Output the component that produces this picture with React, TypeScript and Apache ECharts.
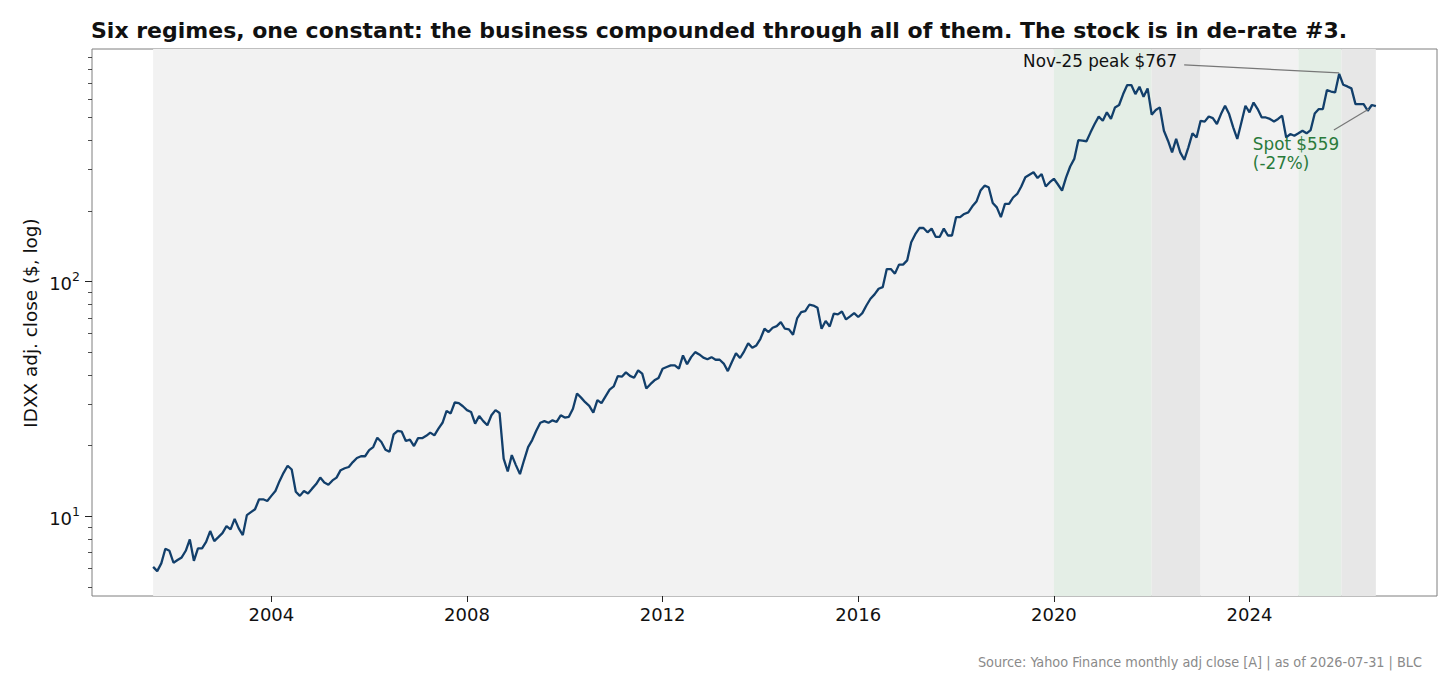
import React, { useEffect, useRef } from "react";
import * as echarts from "echarts";

// ---- Data (monthly adj close, month starts from Aug 2001 to Aug 2026) ----
const START_YEAR = 2001;
const START_MONTH = 8; // August
const PRICES: number[] = [
  6.08, 5.83, 6.29, 7.26, 7.12, 6.33, 6.5, 6.67, 7.12, 7.96,
  6.45, 7.29, 7.29, 7.77, 8.64, 7.83, 8.14, 8.47, 9.07, 8.78,
  9.74, 8.87, 8.3, 10.1, 10.4, 10.7, 11.8, 11.8, 11.6, 12.2,
  12.8, 14.1, 15.3, 16.4, 15.8, 12.7, 12.2, 12.8, 12.5, 13.1,
  13.7, 14.6, 13.9, 13.6, 14.2, 14.6, 15.7, 16.0, 16.2, 17.0,
  17.7, 18.0, 18.0, 19.1, 19.7, 21.6, 20.7, 19.2, 18.8, 22.3,
  23.1, 22.9, 20.9, 21.2, 19.9, 21.5, 21.5, 22.0, 22.7, 22.1,
  23.6, 25.0, 28.1, 27.4, 30.5, 30.3, 29.4, 28.3, 27.8, 24.8,
  26.7, 25.4, 24.4, 26.9, 28.3, 27.5, 17.6, 15.5, 18.2, 16.5,
  15.1, 17.3, 19.7, 21.1, 23.1, 25.0, 25.4, 25.0, 25.6, 25.2,
  26.9, 26.3, 26.5, 28.7, 33.3, 32.0, 30.6, 29.5, 27.6, 31.2,
  30.3, 32.4, 34.6, 35.7, 39.5, 39.3, 41.0, 39.6, 38.9, 41.8,
  40.5, 35.0, 36.5, 37.9, 38.8, 42.5, 43.2, 43.9, 43.9, 42.5,
  48.4, 44.4, 47.6, 50.0, 48.9, 47.4, 46.6, 47.6, 46.4, 46.4,
  44.7, 41.5, 45.4, 49.5, 47.2, 50.4, 54.6, 52.2, 53.4, 57.0,
  62.9, 60.9, 63.5, 64.5, 67.1, 62.9, 62.5, 59.3, 69.6, 74.0,
  74.7, 79.6, 79.0, 77.3, 62.9, 67.9, 64.3, 72.9, 72.4, 74.5,
  68.9, 71.0, 73.3, 70.6, 73.3, 79.0, 84.4, 88.1, 93.1, 94.6,
  113, 113, 108, 118, 118, 123, 147, 159, 169, 169,
  162, 168, 155, 155, 168, 157, 157, 188, 188, 194,
  197, 209, 219, 244, 256, 252, 216, 207, 188, 214,
  214, 228, 236, 254, 278, 285, 292, 276, 287, 254,
  265, 274, 259, 244, 278, 309, 333, 400, 398, 396,
  432, 469, 504, 484, 526, 493, 552, 565, 629, 687,
  687, 629, 676, 613, 665, 514, 538, 552, 439, 398,
  355, 405, 355, 330, 373, 428, 411, 484, 480, 505,
  497, 469, 517, 561, 517, 454, 405, 476, 561, 526,
  579, 543, 500, 500, 493, 481, 493, 509, 411, 425,
  418, 428, 439, 428, 442, 520, 543, 543, 654, 645,
  639, 767, 689, 678, 665, 570, 570, 570, 534, 565,
  559,
];

// Regime bands (decimal years) and their shading kind
const BAND_FROM = [2001.583, 2020.0, 2022.0, 2023.0, 2025.0, 2025.88];
const BAND_TO = [2020.0, 2022.0, 2023.0, 2025.0, 2025.88, 2026.583];
const BAND_KIND = ["base", "rerate", "derate", "base", "rerate", "derate"];
const BAND_COLORS: Record<string, string> = {
  base: "#f2f2f2",
  rerate: "#e4eee6",
  derate: "#e7e7e7",
};

const X_TICKS = [2004, 2008, 2012, 2016, 2020, 2024];
const Y_MAJOR = [10, 100];
const Y_MINOR = [5, 6, 7, 8, 9, 20, 30, 40, 50, 60, 70, 80, 90, 200, 300, 400, 500, 600, 700, 800, 900];
const MONTHS = ["Jan", "Feb", "Mar", "Apr", "May", "Jun", "Jul", "Aug", "Sep", "Oct", "Nov", "Dec"];

const TITLE =
  "Six regimes, one constant: the business compounded through all of them. The stock is in de-rate #3.";
const SOURCE = "Source: Yahoo Finance monthly adj close [A] | as of 2026-07-31 | BLC";
const Y_NAME = "IDXX adj. close ($, log)";

const FONT = "DejaVu Sans";
const LINE_COLOR = "#123f6b";

const xOf = (i: number) => START_YEAR + (START_MONTH - 1 + i) / 12;

export default function App() {
  const ref = useRef<HTMLDivElement>(null);

  useEffect(() => {
    if (!ref.current) return;
    const chart = echarts.init(ref.current, undefined, { renderer: "svg" });

    const n = PRICES.length;
    const xFirst = xOf(0);
    const xLast = xOf(n - 1);
    const xPad = (xLast - xFirst) * 0.05;
    const logs = PRICES.map((v) => Math.log10(v));
    const lo = Math.min(...logs);
    const hi = Math.max(...logs);
    const yPad = (hi - lo) * 0.05;
    const yMin = Math.pow(10, lo - yPad);
    const yMax = Math.pow(10, hi + yPad);

    const seriesData = PRICES.map((v, i) => [xOf(i), v]);

    let peakIdx = 0;
    PRICES.forEach((v, i) => {
      if (v > PRICES[peakIdx]) peakIdx = i;
    });
    const peak = PRICES[peakIdx];
    const spot = PRICES[n - 1];
    const pm = (START_MONTH - 1 + peakIdx) % 12;
    const py = START_YEAR + Math.floor((START_MONTH - 1 + peakIdx) / 12);
    const peakLabel = `${MONTHS[pm]}-${String(py).slice(2)} peak $${Math.round(peak)}`;
    const pct = Math.round((spot / peak - 1) * 100);

    const tickColor = "#222";

    chart.setOption({
      animation: false,
      title: {
        text: TITLE,
        left: 91,
        top: 19,
        padding: 0,
        textStyle: { fontFamily: FONT, fontSize: 22, fontWeight: "bold", color: "#111" },
      },
      grid: {
        left: 92,
        right: 19,
        top: 49,
        bottom: 92,
        show: true,
        borderColor: "#7f7f7f",
        borderWidth: 1,
        backgroundColor: "transparent",
      },
      xAxis: {
        type: "value",
        min: xFirst - xPad,
        max: xLast + xPad,
        splitLine: { show: false },
        axisLine: { show: false },
        axisTick: {
          show: true,
          length: 6,
          customValues: X_TICKS,
          lineStyle: { color: tickColor, width: 1 },
        },
        axisLabel: {
          customValues: X_TICKS,
          margin: 9,
          fontFamily: FONT,
          fontSize: 18,
          color: "#111",
          formatter: (v: number) => String(Math.round(v)),
        },
      },
      yAxis: [
        {
          type: "log",
          logBase: 10,
          min: yMin,
          max: yMax,
          splitLine: { show: false },
          axisLine: { show: false },
          axisTick: {
            show: true,
            length: 7,
            customValues: Y_MAJOR,
            lineStyle: { color: tickColor, width: 1 },
          },
          axisLabel: {
            customValues: Y_MAJOR,
            margin: 12,
            formatter: (v: number) => `{b|10}{s|${Math.round(Math.log10(v))}}`,
            rich: {
              b: { fontFamily: FONT, fontSize: 18, color: "#111", lineHeight: 22, verticalAlign: "bottom" },
              s: { fontFamily: FONT, fontSize: 12.5, color: "#111", lineHeight: 11, verticalAlign: "top" },
            },
          },
        },
        {
          type: "log",
          logBase: 10,
          min: yMin,
          max: yMax,
          position: "left",
          splitLine: { show: false },
          axisLine: { show: false },
          axisTick: {
            show: true,
            length: 4,
            customValues: Y_MINOR,
            lineStyle: { color: tickColor, width: 0.8 },
          },
          axisLabel: { show: false },
        },
      ],
      series: [
        {
          name: "bands",
          type: "line",
          data: [],
          z: 1,
          silent: true,
          markArea: {
            silent: true,
            data: BAND_FROM.map((a, k) => [
              { xAxis: a, itemStyle: { color: BAND_COLORS[BAND_KIND[k]] } },
              { xAxis: BAND_TO[k] },
            ]),
          },
        },
        {
          name: "IDXX",
          type: "line",
          data: seriesData,
          z: 3,
          showSymbol: false,
          symbol: "none",
          lineStyle: { color: LINE_COLOR, width: 2.3 },
        },
      ],
    });

    const pk = chart.convertToPixel({ xAxisIndex: 0, yAxisIndex: 0 }, [xOf(peakIdx), peak]) as number[];
    const sp = chart.convertToPixel({ xAxisIndex: 0, yAxisIndex: 0 }, [xOf(n - 1), spot]) as number[];

    chart.setOption({
      graphic: [
        {
          type: "text",
          x: 30,
          y: 323,
          rotation: Math.PI / 2,
          style: {
            text: Y_NAME,
            fontFamily: FONT,
            fontSize: 18.4,
            fill: "#111",
            align: "center",
            verticalAlign: "middle",
            textAlign: "center",
            textVerticalAlign: "middle",
          },
        },
        {
          type: "text",
          x: 1422,
          y: 662,
          style: {
            text: SOURCE,
            fontFamily: "DejaVu Sans Condensed",
            fontSize: 14.3,
            fill: "#8a8a8a",
            align: "right",
            verticalAlign: "middle",
            textAlign: "right",
            textVerticalAlign: "middle",
          },
        },
        {
          type: "line",
          z: 10,
          shape: { x1: pk[0] - 155, y1: pk[1] - 9, x2: pk[0], y2: pk[1] - 1 },
          style: { stroke: "#777", lineWidth: 1.2 },
        },
        {
          type: "text",
          z: 10,
          x: pk[0] - 162,
          y: pk[1] - 13,
          style: {
            text: peakLabel,
            fontFamily: FONT,
            fontSize: 16.8,
            fill: "#111",
            align: "right",
            verticalAlign: "middle",
            textAlign: "right",
            textVerticalAlign: "middle",
          },
        },
        {
          type: "line",
          z: 10,
          shape: { x1: sp[0] - 42, y1: sp[1] + 24, x2: sp[0] - 7, y2: sp[1] + 3 },
          style: { stroke: "#777", lineWidth: 1.2 },
        },
        {
          type: "text",
          z: 10,
          x: sp[0] - 123,
          y: sp[1] + 28,
          style: {
            text: `Spot $${Math.round(spot)}\n(${pct}%)`,
            fontFamily: FONT,
            fontSize: 16.8,
            lineHeight: 19.5,
            fill: "#2a7a3b",
            align: "left",
            verticalAlign: "top",
            textAlign: "left",
            textVerticalAlign: "top",
          },
        },
      ],
    });

    return () => chart.dispose();
  }, []);

  return (
    <div
      ref={ref}
      style={{ position: "absolute", left: 0, top: 0, width: 1456, height: 688, background: "#fff" }}
    />
  );
}
